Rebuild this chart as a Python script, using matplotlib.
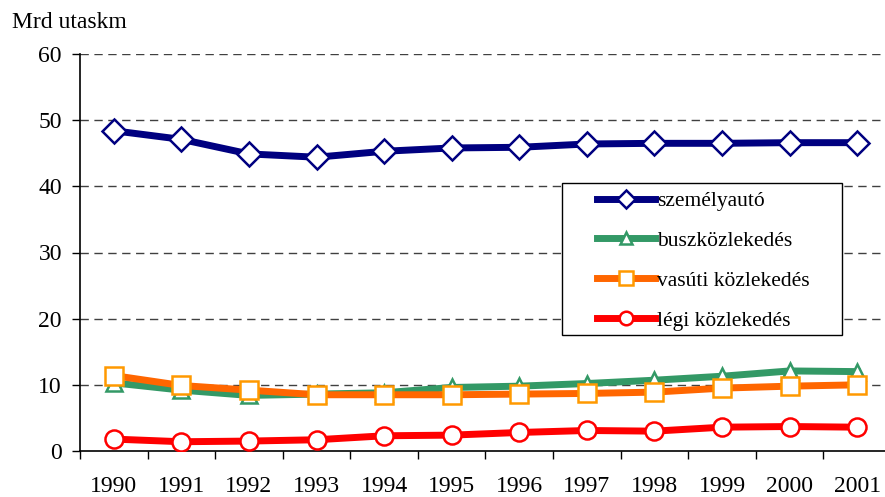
import matplotlib.pyplot as plt
import numpy as np
from matplotlib.patches import Rectangle

plt.rcParams['font.family'] = ['Liberation Serif', 'DejaVu Serif']

years = ["1990", "1991", "1992", "1993", "1994", "1995",
         "1996", "1997", "1998", "1999", "2000", "2001"]
szemelyauto = [48.4, 47.1, 44.9, 44.4, 45.3, 45.8, 45.9, 46.4, 46.5, 46.5, 46.6, 46.6]
busz = [10.3, 9.2, 8.4, 8.6, 8.8, 9.6, 9.8, 10.2, 10.7, 11.3, 12.1, 12.0]
vasut = [11.4, 9.9, 9.2, 8.5, 8.5, 8.5, 8.6, 8.7, 8.9, 9.5, 9.8, 10.0]
legi = [1.8, 1.4, 1.5, 1.7, 2.3, 2.4, 2.8, 3.1, 3.0, 3.6, 3.7, 3.6]

fig = plt.figure(figsize=(8.85, 4.97), dpi=100)
# axes run a little past the right edge of the picture, as in the original
ax = fig.add_axes([80/885, 1 - 451/497, 811/885, 397/497])

x = np.arange(len(years))
ax.plot(x, szemelyauto, color='#000080', lw=5, marker='D', ms=12,
        mfc='white', mec='#000080', mew=1.8, label='személyautó', zorder=3)
ax.plot(x, busz, color='#339966', lw=5, marker='^', ms=11,
        mfc='white', mec='#339966', mew=1.8, label='buszközlekedés', zorder=3)
ax.plot(x, vasut, color='#FF6600', lw=5, marker='s', ms=13,
        mfc='white', mec='#FF9900', mew=1.8, label='vasúti közlekedés', zorder=3)
ax.plot(x, legi, color='#FF0000', lw=5, marker='o', ms=13,
        mfc='white', mec='#FF0000', mew=1.8, label='légi közlekedés', zorder=3)

ax.set_xlim(-0.5, len(years) - 0.5)
ax.set_ylim(0, 60)
ax.set_yticks(range(0, 61, 10))
for v in range(10, 61, 10):
    ax.axhline(v, color='#404040', lw=1, ls=(0, (6, 4)), zorder=1)

ax.set_xticks(x)
ax.set_xticklabels(years)
ax.set_xticks(np.arange(-0.5, len(years)), minor=True)
ax.tick_params(axis='x', which='major', length=0, pad=18, labelsize=17)
ax.tick_params(axis='x', which='minor', length=6, width=1, direction='out')
ax.tick_params(axis='y', length=6, width=1, pad=7, labelsize=17)

for s in ['top', 'right']:
    ax.spines[s].set_visible(False)
ax.spines['left'].set_linewidth(1.2)
ax.spines['bottom'].set_linewidth(1.2)

fig.text(12/885, 1 - 23/497, 'Mrd utaskm', fontsize=17, va='center', ha='left')

box = Rectangle((562/885, 1 - 335/497), 280/885, 152/497, transform=fig.transFigure,
                facecolor='white', edgecolor='black', lw=1, zorder=4)
fig.patches.append(box)
leg = fig.legend(loc='upper left', bbox_to_anchor=(597/885, 1 - 191/497),
                 frameon=False, fontsize=15.5, handlelength=2.7, handletextpad=0.1,
                 labelspacing=0.92, borderpad=0, borderaxespad=0, markerscale=0.75)
leg.set_zorder(5)

fig.savefig('out.png', dpi=100)
